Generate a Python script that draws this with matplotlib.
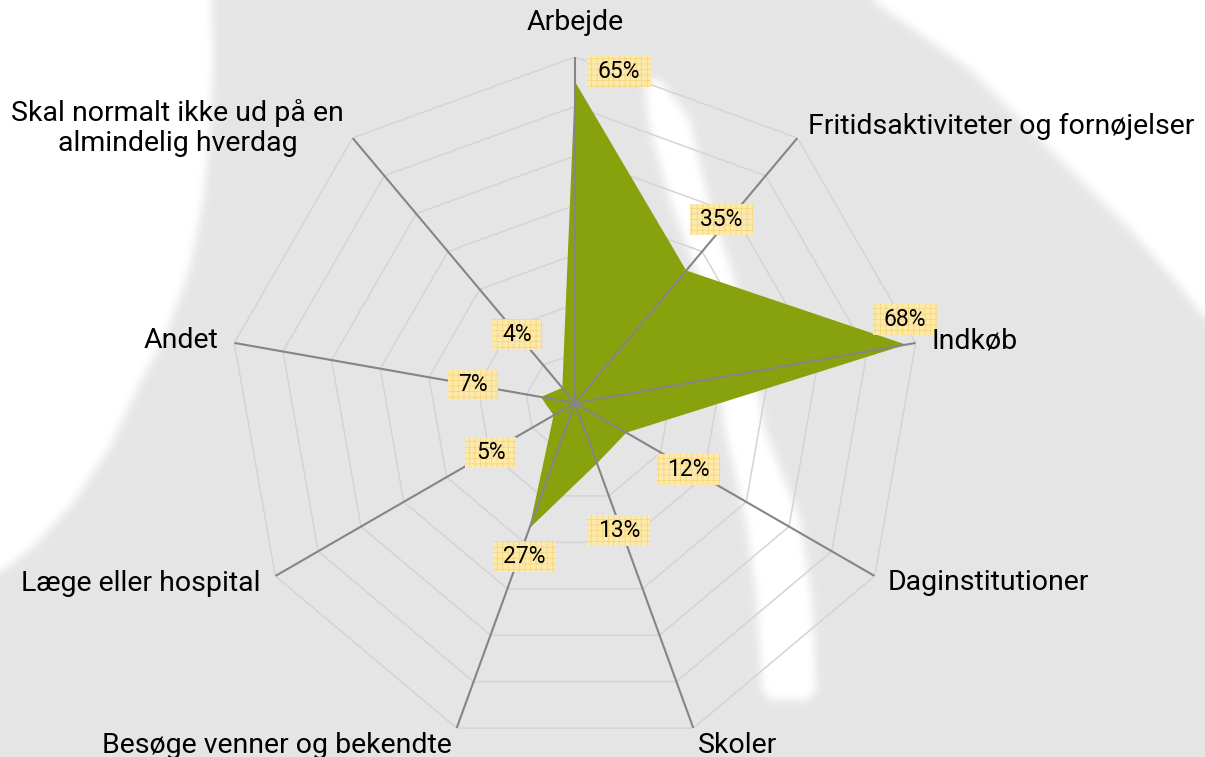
import numpy as np
import matplotlib
matplotlib.use("Agg")
import matplotlib.pyplot as plt
from matplotlib.path import Path

# ---------------- data ----------------
categories = [
    "Arbejde",
    "Fritidsaktiviteter og fornøjelser",
    "Indkøb",
    "Daginstitutioner",
    "Skoler",
    "Besøge venner og bekendte",
    "Læge eller hospital",
    "Andet",
    "Skal normalt ikke ud på en\nalmindelig hverdag",
]
values = [65, 35, 68, 12, 13, 27, 5, 7, 4]
value_labels = ["65%", "35%", "68%", "12%", "13%", "27%", "5%", "7%", "4%"]
ring_levels = [10, 20, 30, 40, 50, 60, 70]
r_max = 70

# ---------------- style / layout ----------------
W, H = 1205, 757
FONT = ["Roboto", "DejaVu Sans"]
plt.rcParams["font.family"] = FONT
plt.rcParams["hatch.linewidth"] = 0.5

GREY_BG = 0.898
GREEN = "#88A20E"
SPOKE = "#858585"
RING = "#d4d4d4"

# label offsets (pixels) for value labels and category labels
val_offsets = [(44, 10), (35, 51), (-1, 25), (62, -37), (22, -67),
               (-5, -28), (-63, -37), (-68, 12), (-45, 53)]
cat_offsets = [(0, 35), (11, 11), (16, 2), (13, -7), (5, -17),
               (-5, -17), (-15, -7), (-16, 2), (-175, 10)]
cat_ha = ["center", "left", "left", "left", "left",
          "right", "right", "right", "center"]

fig = plt.figure(figsize=(W / 100, H / 100), dpi=100)

# ---------------- background watermark ----------------
yy, xx = np.mgrid[0:H, 0:W]
pts = np.column_stack([xx.ravel() + 0.5, yy.ravel() + 0.5])
mask = np.zeros(H * W, dtype=float)

left_poly = [(0, 0), (212, 0), (213, 67), (210, 133), (203, 200), (190, 267),
             (167, 333), (140, 383), (110, 447), (73, 503), (33, 547), (0, 572)]
right_poly = [(872, 0), (900, 20), (967, 67), (1033, 133), (1087, 187),
              (1133, 233), (1177, 283), (1205, 318), (1205, 0)]
sy = [80, 120, 200, 280, 350, 430, 520, 600, 690]
sl = [645, 648, 670, 700, 715, 725, 746, 757, 762]
sr = [660, 690, 708, 735, 750, 765, 800, 812, 816]
stripe_poly = list(zip(sl, sy)) + [(770, 700), (808, 700)] + list(zip(sr[::-1], sy[::-1]))

for poly in (left_poly, right_poly, stripe_poly):
    mask[Path(poly).contains_points(pts)] = 1.0
mask = mask.reshape(H, W)

sig = 4.5
k = np.arange(-16, 17)
ker = np.exp(-0.5 * (k / sig) ** 2)
ker /= ker.sum()
pad = np.pad(mask, 16, mode="edge")
tmp = np.apply_along_axis(lambda r: np.convolve(r, ker, mode="valid"), 1, pad)
blur = np.apply_along_axis(lambda c: np.convolve(c, ker, mode="valid"), 0, tmp)
img = GREY_BG + (1 - GREY_BG) * blur

bg = fig.add_axes([0, 0, 1, 1])
bg.imshow(img, cmap="gray", vmin=0, vmax=1, extent=(0, W, H, 0), aspect="auto",
          interpolation="bilinear")
bg.set_axis_off()

# ---------------- radar ----------------
cx, cy, rad = 575, 403, 346
ax = fig.add_axes([(cx - rad) / W, (H - cy - rad) / H, 2 * rad / W, 2 * rad / H],
                  projection="polar")
ax.set_theta_offset(np.pi / 2)
ax.set_theta_direction(-1)
ax.set_ylim(0, r_max)
ax.grid(False)
ax.set_xticks([])
ax.set_yticks([])
ax.spines["polar"].set_visible(False)
ax.patch.set_alpha(0)

n = len(categories)
theta = np.arange(n) * 2 * np.pi / n
th_c = np.append(theta, theta[0])

for lvl in ring_levels:
    ax.plot(th_c, [lvl] * (n + 1), color=RING, lw=1.1, zorder=1)

vals_c = np.append(values, values[0])
ax.fill(th_c, vals_c, color=GREEN, lw=0, zorder=2)

for t in theta:
    ax.plot([t, t], [0, r_max], color=SPOKE, lw=1.5, zorder=3, solid_capstyle="butt")

for t, v, lab, off in zip(theta, values, value_labels, val_offsets):
    ax.annotate(lab, xy=(t, v), xytext=off, textcoords="offset pixels",
                ha="center", va="center", fontsize=16.5, color="black", zorder=5,
                bbox=dict(boxstyle="square,pad=0.45", fc="#fce9ad", ec="#f7d473",
                          lw=0, hatch="+++", mutation_aspect=0.38))

for t, c, off, ha in zip(theta, categories, cat_offsets, cat_ha):
    ax.annotate(c, xy=(t, r_max), xytext=off, textcoords="offset pixels",
                ha=ha, va="center", multialignment="center", fontsize=20.5,
                color="black", zorder=5, annotation_clip=False, linespacing=1.12)

fig.savefig("out.png", dpi=100)
